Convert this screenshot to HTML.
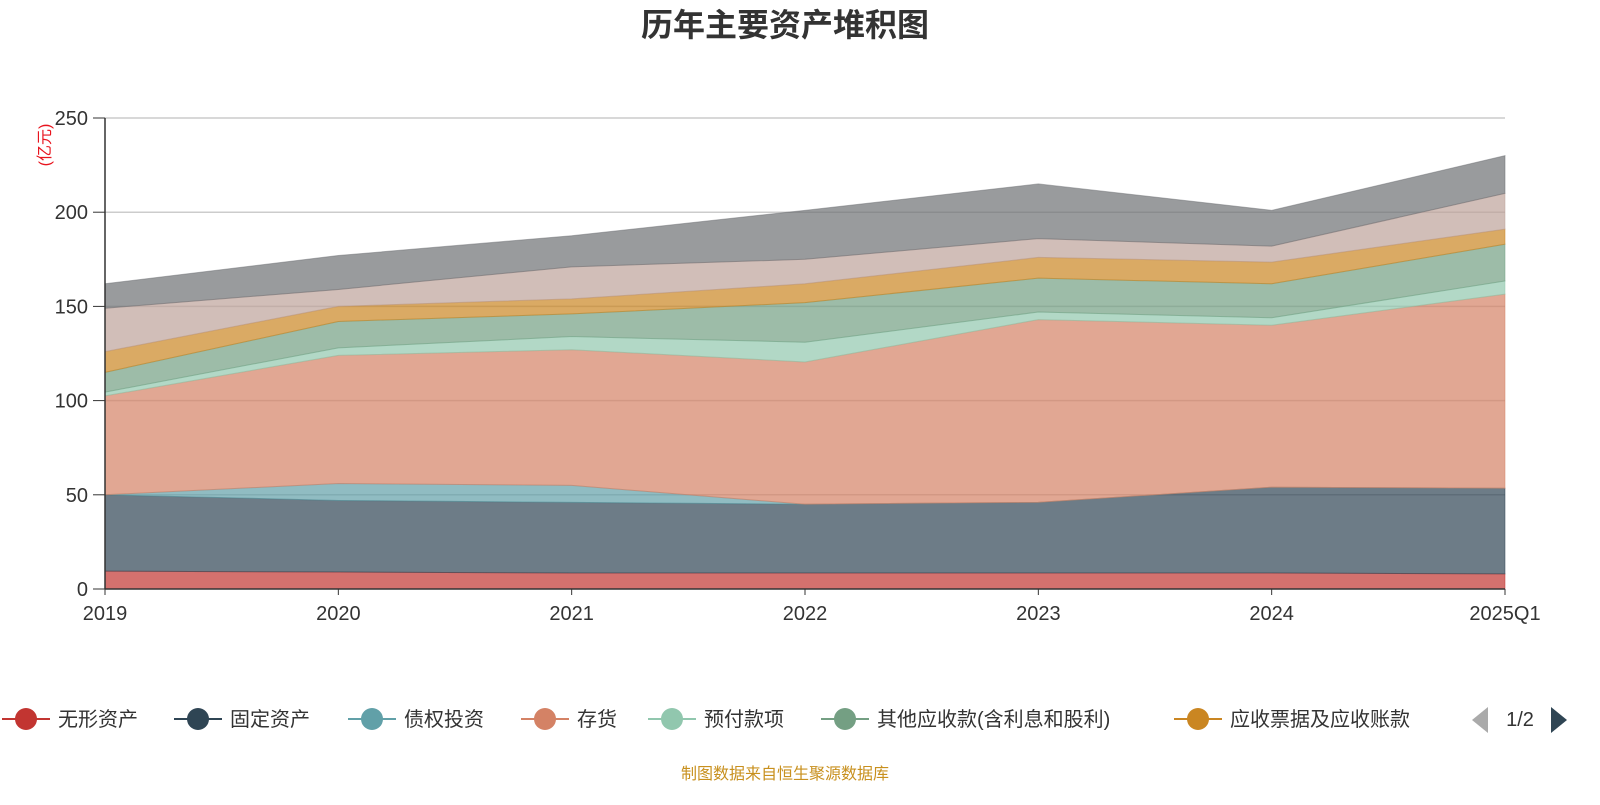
<!DOCTYPE html>
<html><head><meta charset="utf-8"><style>
body{margin:0;background:#fff;font-family:"Liberation Sans","Noto Sans CJK SC",sans-serif;}
svg text{font-family:"Liberation Sans","Noto Sans CJK SC",sans-serif;}
</style></head><body>
<svg id="c" width="1600" height="800">
<text x="785" y="36" text-anchor="middle" font-size="32" font-weight="bold" fill="#333">历年主要资产堆积图</text>
<text transform="translate(50,145) rotate(-90)" text-anchor="middle" font-size="16" fill="#e8141e">(亿元)</text>
<g id="grid"></g><g id="areas"></g><g id="axes"></g><g id="legend"></g>
<text x="785" y="779" text-anchor="middle" font-size="16" fill="#c8901e">制图数据来自恒生聚源数据库</text>
</svg>
<script>
const categories=["2019","2020","2021","2022","2023","2024","2025Q1"];
const yTicks=[0,50,100,150,200,250];
const seriesNames=["无形资产","固定资产","债权投资","存货","预付款项","其他应收款(含利息和股利)","应收票据及应收账款","交易性金融资产","货币资金"];
const s0=[9.5,9,8.5,8.5,8.5,8.5,8];
const s1=[40.5,38,37.5,36.5,37.5,45.5,45.5];
const s2=[0,9,9,0,0,0,0];
const s3=[52.5,68,72,75.5,97,86,103];
const s4=[2,4,7,10.5,4,4,7];
const s5=[10.5,14,12,21,18,18,19.5];
const s6=[11,8,8,10,11,11.5,8];
const s7=[23,9,17,13,10,8.5,19];
const s8=[13,18,16.5,26,29,19,20];
const seriesValues=[s0,s1,s2,s3,s4,s5,s6,s7,s8];
const colors=["#c23531","#2f4554","#61a0a8","#d48265","#91c7ae","#749f83","#ca8622","#bda29a","#6e7074"];
const NS="http://www.w3.org/2000/svg";
const X0=105,X1=1505,Y0=589,Y1=118,YMAX=250;
const x=i=>X0+i*(X1-X0)/(categories.length-1);
const y=v=>Y0-v*(Y0-Y1)/YMAX;
function mk(t,a,p){const e=document.createElementNS(NS,t);for(const k in a)e.setAttribute(k,a[k]);p.appendChild(e);return e;}
const grid=document.getElementById('grid'),areas=document.getElementById('areas'),axes=document.getElementById('axes'),leg=document.getElementById('legend');
yTicks.forEach(v=>{
 if(v>0){const l=mk('line',{x1:X0,x2:X1,y1:y(v),y2:y(v),stroke:'#ccc','stroke-width':1.5},grid);
 
 }
 const t=mk('text',{x:88,y:y(v)+7,'text-anchor':'end','font-size':20,fill:'#333'},axes);t.textContent=v;
 
 
 const tk=mk('line',{x1:93,x2:X0,y1:y(v),y2:y(v),stroke:'#333'},axes);
 
 
});
let base=categories.map(()=>0);
seriesValues.forEach((s,k)=>{
 const top=base.map((b,i)=>b+s[i]);
 let d='M'+top.map((v,i)=>x(i)+','+y(v)).join('L');
 for(let i=categories.length-1;i>=0;i--)d+='L'+x(i)+','+y(base[i]);
 const p=mk('path',{d:d+'Z',fill:colors[k],'fill-opacity':0.7,stroke:colors[k],'stroke-opacity':0.5,'stroke-width':1},areas);
 
 
 base=top;
});
const ax=mk('line',{x1:X0,x2:X0,y1:Y1,y2:Y0,stroke:'#333','stroke-width':1.5},axes);


const bx=mk('line',{x1:X0,x2:X1,y1:Y0,y2:Y0,stroke:'#333','stroke-width':1.5},axes);


categories.forEach((c,i)=>{
 const t=mk('text',{x:x(i),y:620,'text-anchor':i==categories.length-1?'middle':'middle','font-size':20,fill:'#333'},axes);t.textContent=c;
 
 
 const tk=mk('line',{x1:x(i),x2:x(i),y1:Y0,y2:Y0+6,stroke:'#333'},axes);
 
 
});
const lx=[26,198,372,545,672,845,1198];
for(let k=0;k<7;k++){
 const g=mk('g',{},leg);
 
 
 mk('line',{x1:lx[k]-24,x2:lx[k]+24,y1:719,y2:719,stroke:colors[k],'stroke-width':2},g);
 mk('circle',{cx:lx[k],cy:719,r:11,fill:colors[k]},g);
 const t=mk('text',{x:lx[k]+32,y:726,'font-size':20,fill:'#333'},g);t.textContent=seriesNames[k];
}
const pv=mk('path',{d:'M1488,707L1488,733L1472,720Z',fill:'#aaa'},leg);


const pt=mk('text',{x:1520,y:726,'text-anchor':'middle','font-size':20,fill:'#333'},leg);pt.textContent='1/2';


const nx=mk('path',{d:'M1551,707L1551,733L1567,720Z',fill:'#2f4554'},leg);


</script>
</body></html>
